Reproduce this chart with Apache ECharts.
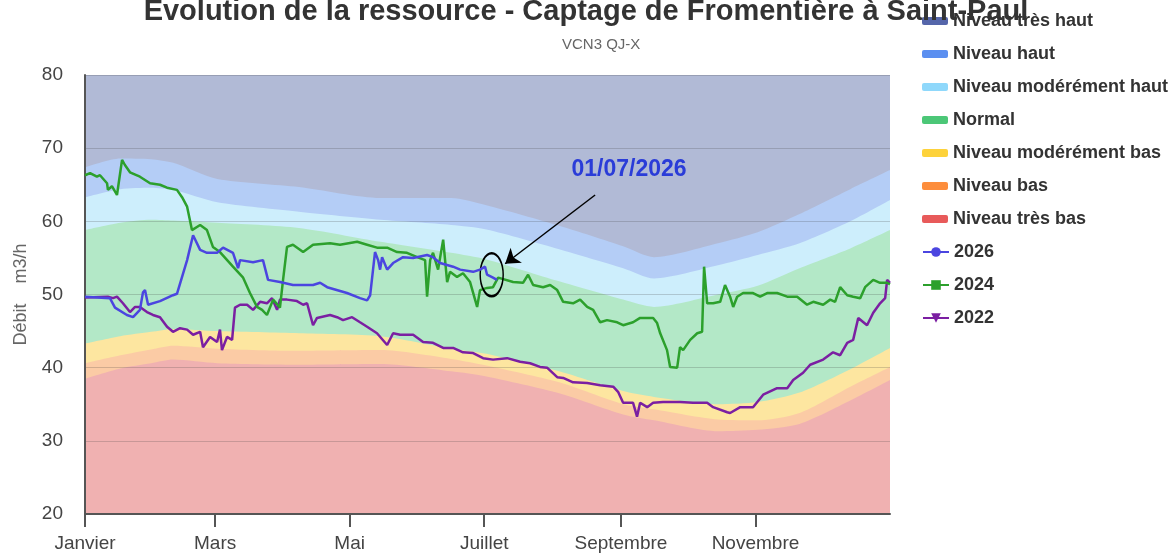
<!DOCTYPE html>
<html>
<head>
<meta charset="utf-8">
<title>Evolution de la ressource</title>
<script src="https://cdn.jsdelivr.net/npm/echarts@6/dist/echarts.min.js"></script>
<style>
  html, body { margin: 0; padding: 0; background: #fff; }
  #chart { width: 1172px; height: 557px; }
</style>
</head>
<body>
<div id="chart"></div>
<script>
// axe des x : jour de l'annee (0 = 1er janvier)
var tickDays = [0, 59, 120, 181, 243, 304];
var tickLabels = ["Janvier", "Mars", "Mai", "Juillet", "Septembre", "Novembre"];

// limites hautes des bandes de niveau
var bandDays    = [0, 16, 30, 40, 60, 97, 134, 166, 182, 215, 244, 258, 287, 305, 324, 347, 365];
var tresBasTop  = [38.5, 39.9, 40.6, 41.1, 40.6, 40.4, 40.5, 39.5, 38.8, 36.5, 33.6, 32.8, 31.3, 31.5, 32.3, 35.5, 38.3];
var basTop      = [40.6, 41.7, 42.5, 43.0, 42.6, 42.3, 42.4, 41.2, 40.3, 38.0, 35.0, 34.3, 32.9, 32.8, 33.8, 37.4, 40.1];
var modBasTop   = [43.3, 44.3, 44.9, 45.3, 45.0, 44.7, 44.3, 42.6, 41.9, 39.5, 36.8, 36.0, 35.0, 35.3, 36.6, 39.8, 42.7];
var normalTop   = [58.8, 59.8, 60.2, 60.1, 59.8, 59.1, 57.2, 55.7, 54.8, 51.8, 49.3, 48.3, 50.0, 51.2, 53.6, 56.3, 58.8];
var modHautTop  = [63.3, 64.4, 64.6, 64.3, 62.6, 61.3, 60.2, 59.5, 58.9, 56.2, 53.6, 52.2, 54.0, 55.4, 57.0, 60.0, 62.9];
var hautTop     = [67.4, 68.6, 68.5, 68.0, 65.8, 64.7, 63.2, 63.2, 62.2, 59.4, 56.6, 55.1, 57.0, 58.5, 61.0, 64.4, 67.0];
var yMin = 20, yMax = 80;

var bandNames  = ["Niveau très bas", "Niveau bas", "Niveau modérément bas", "Normal",
                  "Niveau modérément haut", "Niveau haut", "Niveau très haut"];
var bandColors = ["#e85a5a", "#fd8d3c", "#fdd23b", "#4cc777", "#8fd8fb", "#5b8ff0", "#5566aa"];
var bandFills  = ["#f0b1b1", "#fbcba5", "#fde6a0", "#b3e8c7", "#cdeefc", "#b4cdf6", "#b1bad6"];

// series annuelles [jour, debit m3/h]
var s2026 = [[0,49.7],[11.3,49.5],[13.6,48.2],[19,47.2],[21.8,46.9],[24.9,47.9],[26.3,50.3],[27.2,50.6],
  [28.6,48.6],[34,49.1],[39.9,49.9],[41.7,50.1],[46.3,54.7],[49,58.1],[52.2,56.1],[55.3,55.7],[59.9,55.7],
  [62.6,56.4],[67.1,55.7],[69.4,53.6],[70.3,54.7],[76.2,54.4],[80.7,54.7],[83,52],[88.4,51.7],[94.3,51.3],
  [103.4,51.3],[106.6,51.6],[109.8,51],[118.8,50.2],[124.7,49.5],[127.9,49.2],[129.3,49.9],[131.5,55.8],
  [132.9,54.7],[133.8,53.4],[134.7,55.1],[137,53.4],[139.7,54.3],[144.2,55.1],[148.8,55],[155.1,55.4],
  [157.8,55.1],[161,54.3],[166.9,53.8],[170.1,53.4],[176,53.1],[179.1,53.4],[181.4,53.8],[182.3,52.7],
  [185,52.3],[186.8,52]];

var s2024 = [[0,66.3],[2.3,66.6],[5.4,66.1],[6.8,66.3],[10,65.2],[10.4,64.3],[12.2,64.8],[14.5,63.6],
  [16.8,68.4],[18.1,67.7],[20.4,66.7],[24.9,66.1],[29.5,65.2],[34,65],[37.2,64.6],[41.7,64.3],[44,63.3],
  [46.3,62],[48.5,58.8],[52.2,59.5],[55.3,58.8],[58,56.5],[61.2,55.8],[67.1,53.8],[71.7,52.3],[74.8,50.2],
  [78,48.3],[80.3,47.9],[82.5,47.2],[85.3,49.3],[88.4,48.2],[89.8,52],[91.6,56.5],[94.3,56.8],[98.9,55.8],
  [103.4,56.8],[111.1,57],[115.6,56.8],[123.4,57.2],[127.9,56.8],[132.4,56.4],[137,56.4],[141.5,55.8],
  [146,55.7],[150.6,55.1],[154.2,54.7],[155.1,49.7],[156.5,54.7],[157.8,55.7],[160.1,53.4],[162.4,57.5],
  [164.2,51.7],[165.5,53.1],[168.7,52.4],[171.4,52.9],[174.6,51.7],[177.8,48.3],[179.1,50.6],[182.3,50.9],
  [185,51],[187.3,52.3],[194.1,51.7],[198.6,51.6],[200.9,52.7],[203.2,51.3],[207.7,51],[210.9,51.3],
  [214.1,50.6],[216.8,49],[221.3,48.8],[224.5,49.3],[227.7,48.3],[230.4,47.9],[233.6,46.2],[236.7,46.5],
  [241.3,46.2],[244,45.8],[248.5,46.2],[251.7,46.8],[257.6,46.8],[259.4,46.1],[260.8,44.7],[263.9,42.4],
  [265.3,40.1],[268.5,40],[269.8,42.8],[271.2,42.4],[274.4,43.8],[277.6,44.7],[279.8,44.9],[280.7,53.8],
  [282.1,48.8],[284.8,48.8],[288,49],[290.2,51.3],[292.5,49.7],[293.9,48.3],[295.7,49.7],[298.4,50.2],
  [302.9,50.2],[306.1,49.7],[309.3,50.2],[313.8,50.2],[318.4,49.7],[322.9,49.7],[327.4,48.6],[330.2,49],
  [334.7,48.6],[337.9,49.3],[340.1,49],[342.4,51],[345.6,49.9],[348.3,49.7],[351.5,49.5],[353.7,51],
  [357.4,52],[360.5,51.6],[363.7,51.6],[365,51.4]];

var s2022 = [[0,49.6],[10.4,49.7],[12.7,49.5],[14.5,49.7],[17.2,48.8],[20.4,47.6],[22.7,48.3],[24.9,48.3],
  [28.1,47.6],[30.8,47.2],[34,46.9],[37.2,45.6],[39.9,44.9],[43.1,45.4],[46.3,45.2],[49,44.5],[52.2,44.9],
  [53.5,42.8],[56.7,44.2],[59.9,43.5],[61.2,45.2],[62.1,42.4],[64.4,44.2],[66.7,43.8],[68,48.2],[70.3,48.6],
  [73.5,48.6],[76.2,47.9],[79.4,49],[82.5,48.8],[84.8,49.5],[87.1,47.9],[88.4,49.3],[91.6,49.3],[96.1,49.1],
  [98.9,48.6],[100.7,48.8],[103.4,45.8],[105.2,46.8],[111.1,47.2],[114.3,46.9],[117,46.5],[121.1,46.9],
  [124.7,46.2],[127.9,45.6],[132.4,44.7],[137,43.1],[139.7,44.7],[142.9,44.5],[148.8,44.5],[153.3,43.5],
  [157.8,43.4],[162.4,42.7],[166.9,42.7],[171.4,42.1],[176,42],[180.5,41.3],[185,41.1],[191.4,41.3],
  [197.3,40.8],[201.8,40.6],[206.3,40.1],[209.5,40],[214.1,38.7],[216.8,38.6],[221.3,38],[227.7,37.9],
  [233.6,37.6],[239.5,37.4],[241.7,36.7],[244,35.2],[248.5,35.2],[250.3,33.3],[251.7,35.2],[254.9,34.6],
  [257.6,35.2],[262.1,35.3],[269.8,35.3],[275.7,35.2],[282.1,35.2],[284.8,34.6],[291.2,33.9],[292.5,33.8],
  [297.1,34.6],[302.9,34.6],[307.5,36.3],[313.8,37.2],[318.4,37.2],[321.1,38.3],[325.6,39.3],[328.8,40.4],
  [334.7,41.1],[339.2,42.1],[342.4,41.7],[345.6,43.4],[348.3,43.8],[350.6,46.8],[354.6,45.8],[357.4,47.5],
  [360.5,48.8],[362.8,49.5],[363.7,52],[365,51.6]];

// annotation
var todayLabel = "01/07/2026";
var labelAt = [246.7, 67.1];
var arrowFrom = [231.3, 63.6];
var arrowTo = [190.5, 54.2];
var circleAt = [184.4, 52.7];

var myChart = echarts.init(document.getElementById("chart"));

var tops = [tresBasTop, basTop, modBasTop, normalTop, modHautTop, hautTop,
  bandDays.map(function () { return yMax; })];

// bandes : chaque aire descend jusqu'au bas de l'axe, la plus haute dessinee en premier
var series = [];
for (var i = bandNames.length - 1; i >= 0; i--) {
  var data = [];
  for (var k = 0; k < bandDays.length; k++) {
    data.push([bandDays[k], tops[i][k]]);
  }
  series.push({
    name: bandNames[i],
    type: "line",
    data: data,
    symbol: "none",
    smooth: 0.25,
    color: bandColors[i],
    lineStyle: { width: 0 },
    areaStyle: { color: bandFills[i], opacity: 1, origin: "start" },
    silent: true,
    z: 1,
  });
}

series.push({
  name: "2022", type: "line", data: s2022, color: "#7b1fa2",
  symbol: "triangle", symbolRotate: 180, showSymbol: false,
  lineStyle: { width: 2.5 }, z: 3,
});
series.push({
  name: "2024", type: "line", data: s2024, color: "#2ca02c",
  symbol: "rect", showSymbol: false,
  lineStyle: { width: 2.5 }, z: 4,
});
series.push({
  name: "2026", type: "line", data: s2026, color: "#4b45e0",
  symbol: "circle", showSymbol: false,
  lineStyle: { width: 2.5 }, z: 5,
  markPoint: {
    silent: true,
    animation: false,
    data: [
      {
        coord: circleAt,
        symbol: "path://M0,-1A1,1 0 1,1 0,1A1,1 0 1,1 0,-1Z",
        symbolSize: [23, 43],
        itemStyle: { color: "rgba(0,0,0,0)", borderColor: "#000", borderWidth: 2 },
        label: { show: false },
      },
      {
        coord: labelAt,
        symbol: "rect",
        symbolSize: [1, 1],
        itemStyle: { color: "rgba(0,0,0,0)" },
        label: {
          show: true, position: "inside", formatter: todayLabel,
          color: "#2a3cd8", fontSize: 23, fontWeight: "bold",
        },
      },
    ],
  },
  markLine: {
    silent: true,
    animation: false,
    symbol: ["none", "arrow"],
    symbolSize: 14,
    label: { show: false },
    lineStyle: { color: "#000", width: 1.5, type: "solid" },
    data: [[{ coord: arrowFrom }, { coord: arrowTo }]],
  },
});

var legendText = { color: "#333", fontSize: 18, fontWeight: "bold" };

var option = {
  backgroundColor: "#FFFFFF",
  animation: false,
  textStyle: { fontFamily: "Liberation Sans, Arial, sans-serif" },
  title: [
    {
      text: "Evolution de la ressource - Captage de Fromentière à Saint-Paul",
      left: "center",
      top: -3,
      padding: 0,
      textStyle: { fontSize: 29, fontWeight: "bold", color: "#333" },
    },
    {
      text: "VCN3 QJ-X",
      left: 562,
      top: 37,
      padding: 0,
      textStyle: { fontSize: 15, fontWeight: "normal", color: "#666" },
    },
  ],
  legend: [
    {
      orient: "vertical",
      left: 922,
      top: 12,
      padding: 0,
      itemGap: 15,
      itemWidth: 26,
      itemHeight: 8,
      textStyle: legendText,
      data: bandNames.slice().reverse().map(function (n) {
        return { name: n, icon: "roundRect" };
      }),
    },
    {
      orient: "vertical",
      left: 922,
      top: 243,
      padding: 0,
      itemGap: 15,
      itemWidth: 26,
      itemHeight: 12,
      textStyle: legendText,
      data: ["2026", "2024", "2022"],
    },
  ],
  grid: { left: 85, right: 282, top: 75, bottom: 43, containLabel: false },
  xAxis: {
    type: "value",
    min: 0,
    max: 365,
    z: 6,
    axisLine: { show: true, lineStyle: { color: "#555", width: 2 } },
    axisTick: { show: true, customValues: tickDays, length: 13, lineStyle: { color: "#555", width: 2 } },
    axisLabel: {
      customValues: tickDays,
      margin: 20,
      fontSize: 19,
      color: "#444",
      formatter: function (v) {
        var idx = tickDays.indexOf(Math.round(v));
        return idx >= 0 ? tickLabels[idx] : "";
      },
    },
    splitLine: { show: false },
  },
  yAxis: {
    type: "value",
    min: yMin,
    max: yMax,
    interval: 10,
    z: 2,
    name: "Débit    m3/h",
    nameLocation: "middle",
    nameGap: 55,
    nameTextStyle: { fontSize: 18, color: "#666" },
    axisLine: { show: true, lineStyle: { color: "#555", width: 2 } },
    axisTick: { show: false },
    axisLabel: { fontSize: 19, color: "#444", margin: 22 },
    splitLine: { show: true, lineStyle: { color: "rgba(60,60,60,0.22)", width: 1 } },
  },
  series: series,
};

myChart.setOption(option);
</script>
</body>
</html>
